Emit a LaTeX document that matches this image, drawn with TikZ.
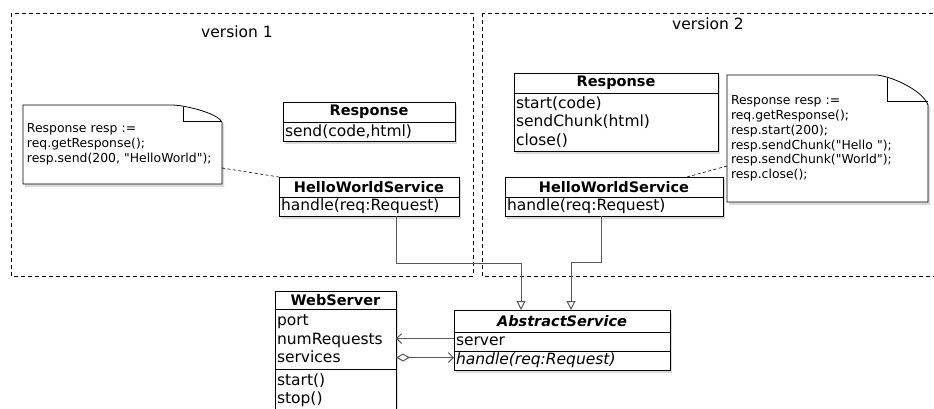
\documentclass[tikz,border=0pt]{standalone}
\usepackage{fontspec}
\setmainfont{DejaVu Sans}
\newfontfamily\notefam[Ligatures=TeXOff]{DejaVu Sans}
\usetikzlibrary{arrows.meta,positioning,calc,shadows,backgrounds}

\newcommand\headfont{\fontsize{14.5}{17}\selectfont\bfseries}
\newcommand\bodyfont{\fontsize{15.5}{18.5}\selectfont}
\newcommand\notefont{\notefam\fontsize{12.4}{14.8}\selectfont}

\begin{document}
\begin{tikzpicture}[x=1pt, y=-1pt,
    umlshadow/.style={drop shadow={opacity=0.3, shadow xshift=2pt, shadow yshift=-3pt}},
    umlhead/.style={draw, fill=white, anchor=north west, font=\headfont, minimum width=#1, minimum height=20pt, inner sep=0pt, outer sep=0pt, line width=0.9pt, umlshadow},
    umlbody/.style={draw, fill=white, anchor=north, align=left, font=\bodyfont, text width=#1, inner xsep=2pt, inner ysep=0pt, outer sep=0pt, minimum height=19pt, line width=0.9pt, umlshadow},
    note/.style={anchor=north west, align=left, font=\notefont, inner xsep=4pt, inner ysep=0pt, outer sep=0pt},
    notebox/.style={draw, fill=white, line width=0.8pt, umlshadow},
    frame/.style={draw, line width=0.7pt, dash pattern=on 4pt off 3pt},
    notelink/.style={draw, line width=0.6pt, dash pattern=on 3pt off 2.5pt},
    gen/.style={draw=black!65, line width=1pt, -{Triangle[open, length=9pt, width=9pt]}},
    assoc/.style={draw=black!65, line width=1pt, -{Straight Barb[length=5pt, width=10pt]}}
]
    \useasboundingbox (0,0) rectangle (934,408);

    % Frames
    \draw[frame] (11,13) rectangle (473,276);
    \draw[frame] (482,13) rectangle (945,276);
    \node[font=\fontsize{15.5}{18}\selectfont] (ver1) at (237,32) {version 1};
    \node[font=\fontsize{15.5}{18}\selectfont] (ver2) at (708,24) {version 2};

    % version 1
    \node[umlhead=172pt] (resp1) at (283,102) {Response};
    \node[umlbody=168pt, below=0pt of resp1] (resp1b) {send(code,html)};
    \node[umlhead=180pt] (hws1) at (279,177) {HelloWorldService};
    \node[umlbody=176pt, below=0pt of hws1] (hws1b) {handle(req:Request)};
    \node[note, text width=191pt, minimum height=79pt] (note1) at (23,105)
        {Response resp :=\\req.getResponse();\\resp.send(200, "HelloWorld");};

    % version 2
    \node[umlhead=204pt] (resp2) at (514,73) {Response};
    \node[umlbody=200pt, minimum height=58pt, below=0pt of resp2] (resp2b) {start(code)\\sendChunk(html)\\close()};
    \node[umlhead=218pt] (hws2) at (505,177) {HelloWorldService};
    \node[umlbody=214pt, below=0pt of hws2] (hws2b) {handle(req:Request)};
    \node[note, text width=193pt, minimum height=127pt] (note2) at (727,75)
        {Response resp :=\\req.getResponse();\\resp.start(200);\\resp.sendChunk("Hello ");\\resp.sendChunk("World");\\resp.close();};

    % Note outlines
    \begin{scope}[on background layer]
        \draw[notebox] (note1.south west) -- (note1.north west) -- ([xshift=-49pt]note1.north east)
            .. controls ([xshift=-32pt,yshift=-1pt]note1.north east) and ([xshift=-4pt,yshift=-9pt]note1.north east)
            .. ([yshift=-17pt]note1.north east) -- (note1.south east) -- cycle;
        \draw[line width=0.8pt] ([xshift=-39pt,yshift=-2pt]note1.north east) -- ([xshift=-39pt,yshift=-16pt]note1.north east) -- ([yshift=-16pt]note1.north east);
        \draw[notebox] (note2.south west) -- (note2.north west) -- ([xshift=-51pt]note2.north east)
            .. controls ([xshift=-34pt,yshift=-2pt]note2.north east) and ([xshift=-5pt,yshift=-16pt]note2.north east)
            .. ([yshift=-30pt]note2.north east) -- (note2.south east) -- cycle;
        \draw[line width=0.8pt] ([xshift=-41pt,yshift=-3pt]note2.north east) -- ([xshift=-41pt,yshift=-26pt]note2.north east) -- ([yshift=-26pt]note2.north east);
    \end{scope}

    % Shared classes
    \node[umlhead=216pt, minimum height=22pt, font=\headfont\itshape] (abs) at (454,310) {AbstractService};
    \node[umlbody=212pt, below=0pt of abs] (absa) {server};
    \node[umlbody=212pt, below=0pt of absa, font=\bodyfont\itshape] (absb) {handle(req:Request)};

    \node[umlhead=121pt, minimum height=18pt] (web) at (275,291) {WebServer};
    \node[umlbody=117pt, minimum height=60pt, below=0pt of web] (weba) {port\\numRequests\\services};
    \node[umlbody=117pt, minimum height=42pt, below=0pt of weba] (webb) {start()\\stop()};

    % Links
    \draw[notelink] ([yshift=16pt]note1.south east) -- (hws1.north west);
    \draw[notelink] ([yshift=36pt]note2.south west) -- ([xshift=-36pt]hws2.north east);

    \draw[gen] ([xshift=27pt]hws1b.south) -- ++(0,47) -| ([xshift=-41pt]abs.north);
    \draw[gen] ([xshift=-13pt]hws2b.south) -- ++(0,46) -| ([xshift=9pt]abs.north);

    \draw[assoc] ([yshift=3pt]absa.west) -- ([yshift=3pt]absa.west -| weba.east);
    \draw[assoc, {Diamond[open, length=14pt, width=8pt]}-{Straight Barb[length=5pt, width=10pt]}] ([yshift=3pt]absb.west -| weba.east) -- ([yshift=3pt]absb.west);
\end{tikzpicture}
\end{document}
